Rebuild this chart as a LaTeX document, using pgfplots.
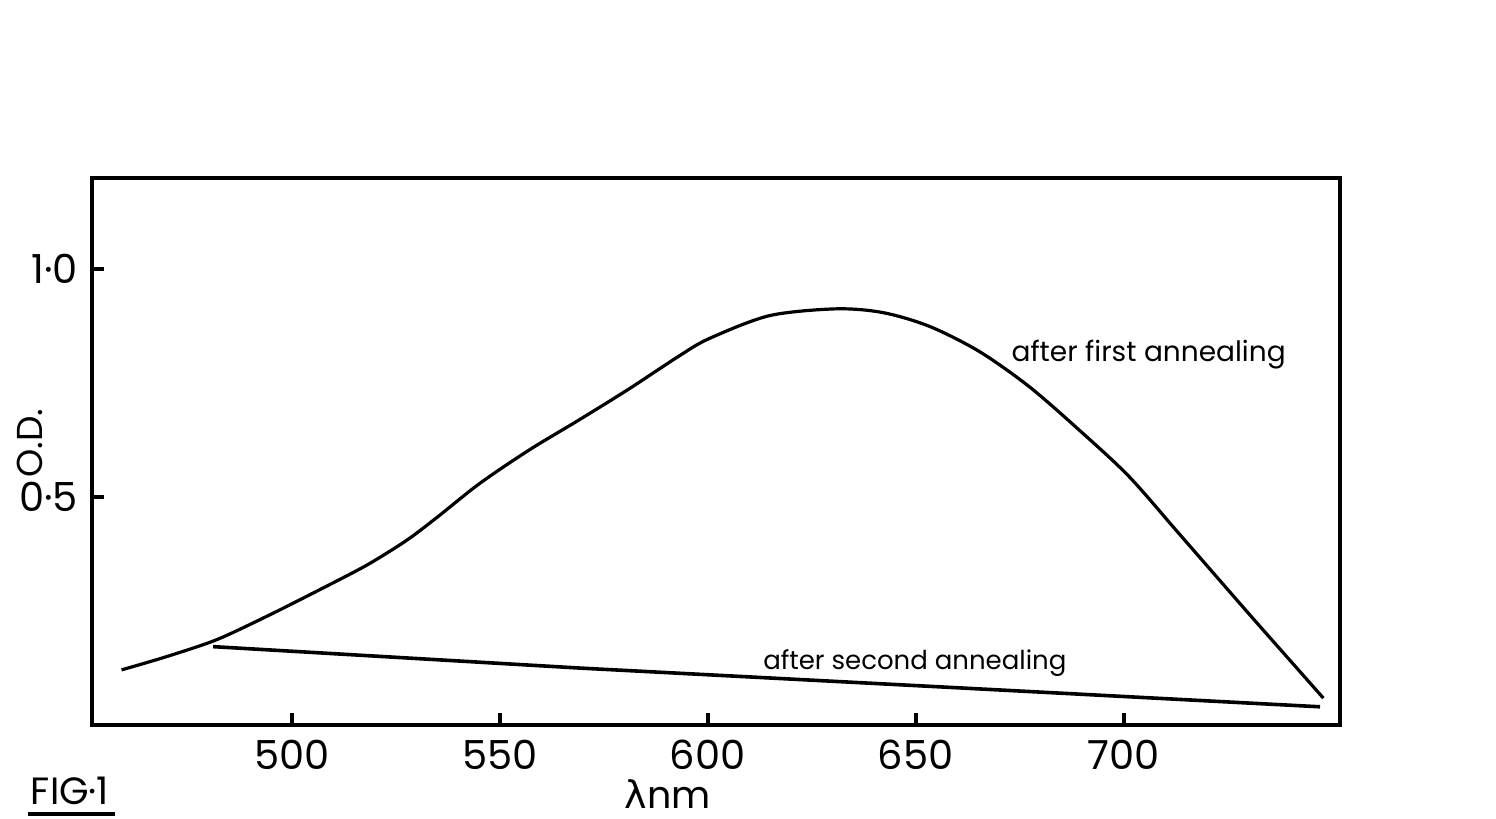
\documentclass[border=0pt]{standalone}
\usepackage{pgfplots}
\pgfplotsset{compat=1.18}
\usepackage{fontspec}
\setmainfont{Poppins}
\newfontfamily\dv{DejaVu Sans}
\begin{document}
\begin{tikzpicture}
\path[use as bounding box] (0,0) rectangle (374pt,-204.5pt);
\begin{axis}[
  at={(23pt,-181.25pt)}, anchor=south west,
  scale only axis, width=312pt, height=136.75pt,
  xmin=452, xmax=752, ymin=0, ymax=1.2,
  axis line style={line width=1pt},
  tick align=inside, xtick pos=bottom, ytick pos=left,
  major tick length=3pt,
  tick style={line width=1pt, black},
  xtick={500,550,600,650,700},
  xticklabels={500,550,600,650,700},
  ytick={0.5,1.0},
  yticklabels={0·5,1·0},
  ticklabel style={font=\fontsize{10}{12}\selectfont},
  xticklabel style={inner sep=0pt, yshift=-3.5pt},
  clip=false,
]
\addplot[black, line width=0.8pt, smooth] coordinates {
(459.1,0.121) (469.9,0.150) (481.9,0.187) (493.9,0.238) (505.9,0.293)
(517.9,0.350) (527.6,0.405) (535,0.456) (545.2,0.530) (557.2,0.604)
(569.2,0.670) (581.2,0.738) (593.2,0.810) (600.4,0.848) (614.8,0.898)
(630.8,0.913) (642,0.905) (653.2,0.875) (665.2,0.820) (677.2,0.743)
(689.2,0.648) (701.2,0.546) (713.2,0.421) (730,0.245) (742,0.121) (748,0.059)
};
\addplot[black, line width=0.9pt] coordinates {
(481.1,0.172) (569.2,0.125) (670,0.077) (747.2,0.040)
};
\node[font=\fontsize{7}{8}\selectfont] at (axis cs:706,0.813) {after first annealing};
\node[font=\fontsize{6.5}{8}\selectfont] at (axis cs:649.8,0.136) {after second annealing};
\node[font=\fontsize{9}{11}\selectfont, rotate=90, anchor=center, inner sep=0pt] at (axis description cs:-0.0497,0.5155) {O.D.};
\node[font=\fontsize{9.5}{11}\selectfont, anchor=base, inner sep=0pt] at (axis description cs:0.4615,-0.152) {{\dv λ}nm};
\end{axis}
\node[font=\fontsize{9.5}{11}\selectfont, anchor=base, inner sep=0pt] at (17.5pt,-201pt) {FIG·1};
\draw[line width=1pt] (7pt,-203.4pt) -- (28.75pt,-203.4pt);
\end{tikzpicture}
\end{document}
